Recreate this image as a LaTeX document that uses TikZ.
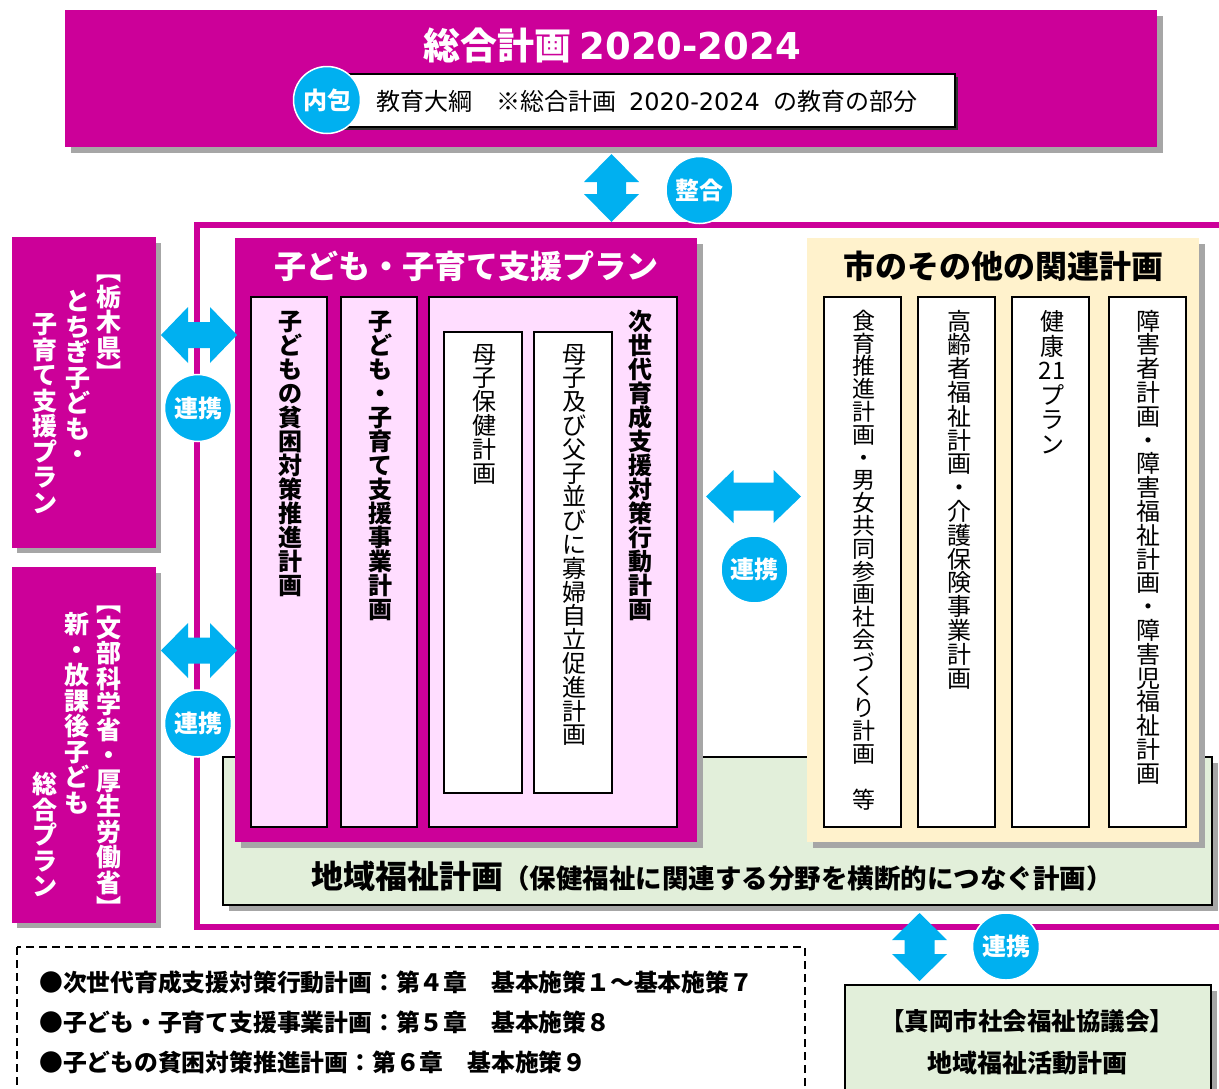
\documentclass[tikz,border=0pt]{standalone}
\usepackage{fontspec}
\setmainfont{Noto Sans CJK JP}
\newfontfamily\lat{DejaVu Sans}
\makeatletter
\newlength\vtpitch
\newcommand\vtext[2]{\vbox{\offinterlineskip\setlength\vtpitch{#1}\@tfor\vtc:=#2\do{\hbox to 1.3em{\hss\vtc\hss\vrule height .88\vtpitch depth .12\vtpitch width 0pt}}}}
\makeatother
\definecolor{mag}{RGB}{204,0,153}
\definecolor{cy}{RGB}{0,176,240}
\definecolor{pk}{RGB}{255,221,255}
\definecolor{yl}{RGB}{255,242,204}
\definecolor{gr}{RGB}{226,239,218}
\definecolor{shadowc}{RGB}{166,166,166}
\newcommand\hdarrow[7]{%
 \fill[cy] ({#2-#4/2},#3) -- ({#2-#4/2+#7},{#3-#5/2}) -- ({#2-#4/2+#7},{#3-#6/2}) -- ({#2+#4/2-#7},{#3-#6/2}) -- ({#2+#4/2-#7},{#3-#5/2}) -- ({#2+#4/2},#3) -- ({#2+#4/2-#7},{#3+#5/2}) -- ({#2+#4/2-#7},{#3+#6/2}) -- ({#2-#4/2+#7},{#3+#6/2}) -- ({#2-#4/2+#7},{#3+#5/2}) -- cycle;
 \coordinate (#1) at (#2,#3);}
\newcommand\vdarrow[7]{%
 \fill[cy] (#2,{#3-#4/2}) -- ({#2-#5/2},{#3-#4/2+#7}) -- ({#2-#6/2},{#3-#4/2+#7}) -- ({#2-#6/2},{#3+#4/2-#7}) -- ({#2-#5/2},{#3+#4/2-#7}) -- (#2,{#3+#4/2}) -- ({#2+#5/2},{#3+#4/2-#7}) -- ({#2+#6/2},{#3+#4/2-#7}) -- ({#2+#6/2},{#3-#4/2+#7}) -- ({#2+#5/2},{#3-#4/2+#7}) -- cycle;
 \coordinate (#1) at (#2,#3);}
\tikzset{
 shadowfill/.style={fill=shadowc, draw=none},
 colbox/.style={draw=black, line width=1.6},
 badge/.style={circle, fill=cy, draw=white, line width=1.5, minimum size=67, inner sep=0, text=white, font=\bfseries\fontsize{24}{24}\selectfont},
 vt/.style={anchor=north, inner sep=0pt},
 vtb/.style={vt, font=\bfseries\fontsize{24}{24}\selectfont},
 vtr/.style={vt, font=\fontsize{24}{24}\selectfont},
 vtw/.style={vt, text=white, font=\bfseries\fontsize{25}{25}\selectfont},
 listtxt/.style={anchor=west, inner sep=0, font=\bfseries\fontsize{23.8}{23.8}\selectfont},
}
\begin{document}
\begin{tikzpicture}[x=1pt,y=-1pt]
\useasboundingbox (0,0) rectangle (1219,1088);
\clip (0,0) rectangle (1219,1088);
\fill[white] (0,0) rectangle (1219,1088);
% top box
\fill[shadowfill] (71,16) rectangle (1163,153);
\fill[mag] (65,10) rectangle (1157,147);
\node[font=\bfseries\fontsize{37}{37}\selectfont, text=white, inner sep=0] (title) at (612,45) {総合計画 {\lat 2020-2024}};
\fill[black!80] (328,77) rectangle (958,130);
\draw[black, line width=1.5, fill=white] (325,74) rectangle (955,127);
\node[anchor=west, font=\fontsize{24}{24}\selectfont, inner sep=0] (inc) at (376,101) {教育大綱　※総合計画\hspace{13pt}{\lat 2020-2024}\hspace{13pt}の教育の部分};
\node[badge] (naiho) at (327,100) {内包};
% big frame
\draw[mag, line width=6] (197,224.5) rectangle (1260,926.5);
% green box
\fill[shadowfill] (229,763) rectangle (1218,911);
\draw[fill=gr, line width=2] (223,757) rectangle (1212,905);
\node[inner sep=0, font=\bfseries] (chiiki) at (712,876) {{\fontsize{32}{32}\selectfont 地域福祉計画}{\fontsize{26.5}{26.5}\selectfont （保健福祉に関連する分野を横断的につなぐ計画）}};
% pink box
\fill[shadowfill] (241,244) rectangle (703,848);
\fill[mag] (235,238) rectangle (697,842);
\node[inner sep=0, text=white, font=\bfseries\fontsize{32}{32}\selectfont] (kodomo) at (466,266) {子ども・子育て支援プラン};
\draw[colbox, fill=pk] (251,297) rectangle (327,827);
\draw[colbox, fill=pk] (341,297) rectangle (417,827);
\draw[colbox, fill=pk] (429,297) rectangle (677,827);
\draw[colbox, fill=white] (444,332) rectangle (522,793);
\draw[colbox, fill=white] (534,332) rectangle (612,793);
\node[vtb] (p1) at (290,309) {\vtext{24pt}{子どもの貧困対策推進計画}};
\node[vtb] (p2) at (380,309) {\vtext{24pt}{子ども・子育て支援事業計画}};
\node[vtb] (p3) at (640,309) {\vtext{24pt}{次世代育成支援対策行動計画}};
\node[vtr] (p4) at (484,342) {\vtext{23.8pt}{母子保健計画}};
\node[vtr] (p5) at (574,342) {\vtext{23.8pt}{母子及び父子並びに寡婦自立促進計画}};
% yellow box
\fill[shadowfill] (813,244) rectangle (1205,848);
\fill[yl] (807,238) rectangle (1199,842);
\node[inner sep=0, font=\bfseries\fontsize{32}{32}\selectfont] (sonota) at (1003,266) {市のその他の関連計画};
\draw[colbox, fill=white] (824,297) rectangle (901,827);
\draw[colbox, fill=white] (918,297) rectangle (995,827);
\draw[colbox, fill=white] (1012,297) rectangle (1089,827);
\draw[colbox, fill=white] (1109,297) rectangle (1186,827);
\node[vt, font=\fontsize{23}{23}\selectfont] (y1) at (864,309) {\vtext{22.8pt}{食育推進計画・男女共同参画社会づくり計画{}等}};
\node[vtr] (y2) at (959,309) {\vtext{23.8pt}{高齢者福祉計画・介護保険事業計画}};
\node[vtr] (y3) at (1052,309) {\vtext{24.5pt}{健康{21}プラン}};
\node[vtr] (y4) at (1148,309) {\vtext{23.8pt}{障害者計画・障害福祉計画・障害児福祉計画}};
% left boxes
\fill[shadowfill] (17,243) rectangle (161,553);
\fill[mag] (12,237) rectangle (156,548);
\node[vtw] (l1a) at (109,258) {\vtext{25.5pt}{︻栃木県︼}};
\node[vtw] (l1b) at (78,288) {\vtext{25.5pt}{とちぎ子ども・}};
\node[vtw] (l1c) at (45,311) {\vtext{25.5pt}{子育て支援プラン}};
\fill[shadowfill] (17,573) rectangle (161,928);
\fill[mag] (12,567) rectangle (156,923);
\node[vtw] (l2a) at (109,589) {\vtext{25.5pt}{︻文部科学省・厚生労働省︼}};
\node[vtw] (l2b) at (77,611) {\vtext{25.5pt}{新・放課後子ども}};
\node[vtw] (l2c) at (45,771) {\vtext{25.5pt}{総合プラン}};
% arrows and badges
\vdarrow{a0}{611.5}{188}{68}{55}{29}{28}
\node[badge] (c0) at (699.5,190) {整合};
\hdarrow{a1}{199}{335}{76}{56}{26}{27}
\node[badge] (c1) at (198,408) {連携};
\hdarrow{a2}{199}{650.5}{76}{55}{26}{27}
\node[badge] (c2) at (198,723.5) {連携};
\hdarrow{a3}{753.5}{496.5}{95}{53}{28}{27.5}
\node[badge] (c3) at (754.5,569.5) {連携};
\vdarrow{a4}{919.5}{947}{68}{55}{30}{27}
\node[badge] (c4) at (1006,946.5) {連携};
% dashed list
\draw[line width=2, dash pattern=on 8pt off 5pt] (17,947) rectangle (805,1110);
\node[listtxt] (li1) at (39,982) {●次世代育成支援対策行動計画：第４章　基本施策１～基本施策７};
\node[listtxt] (li2) at (39,1022) {●子ども・子育て支援事業計画：第５章　基本施策８};
\node[listtxt] (li3) at (39,1062) {●子どもの貧困対策推進計画：第６章　基本施策９};
% bottom right
\fill[shadowfill] (851,991) rectangle (1217,1110);
\draw[fill=gr, line width=2] (845,985) rectangle (1211,1110);
\node[inner sep=0, font=\bfseries\fontsize{24.5}{24.5}\selectfont] (shakyo) at (1027,1021) {【真岡市社会福祉協議会】};
\node[inner sep=0, font=\bfseries\fontsize{25}{25}\selectfont] (katsudo) at (1027,1063) {地域福祉活動計画};
\end{tikzpicture}
\end{document}
